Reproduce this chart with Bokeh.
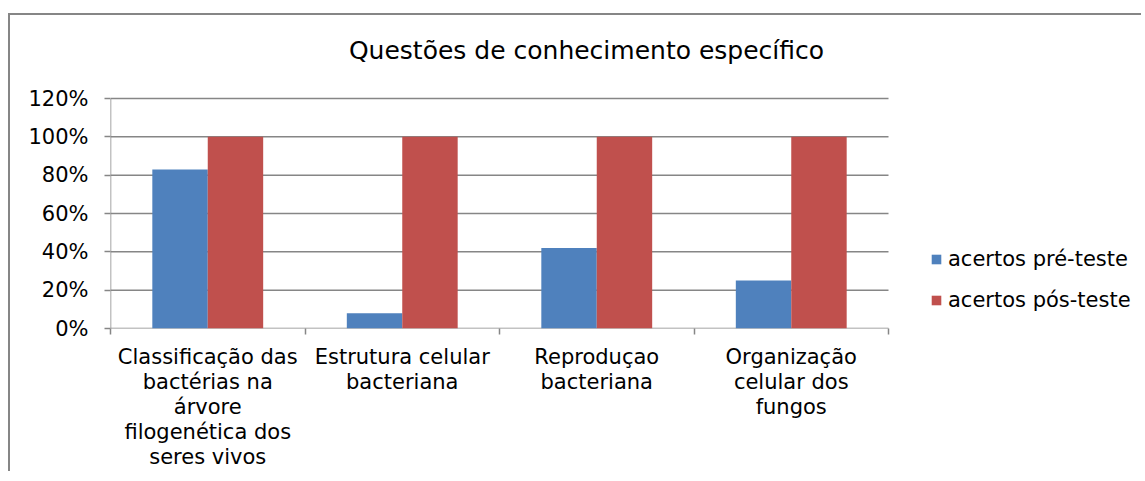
from bokeh.plotting import figure
from bokeh.models import (ColumnDataSource, FixedTicker, NumeralTickFormatter, Range1d,
                          Legend, LegendItem, Label)
from bokeh.transform import dodge
from bokeh.embed import file_html
from bokeh.resources import INLINE

# ---- data ----
categories = [
    "Classificação das\nbactérias na\nárvore\nfilogenética dos\nseres vivos",
    "Estrutura celular\nbacteriana",
    "Reproduçao\nbacteriana",
    "Organização\ncelular dos\nfungos",
]
pre_test = [0.83, 0.08, 0.42, 0.25]
post_test = [1.00, 1.00, 1.00, 1.00]
series_names = ["acertos pré-teste", "acertos pós-teste"]
y_ticks = [0, 0.2, 0.4, 0.6, 0.8, 1.0, 1.2]
title_text = "Questões de conhecimento específico"

FONT = "DejaVu Sans"
BLUE = "#4F81BD"
RED = "#C0504D"
GRID = "#868686"

n = len(categories)
y_max = y_ticks[-1]
xpos = [i + 0.5 for i in range(n)]
src = ColumnDataSource(dict(x=xpos, pre=pre_test, post=post_test))

# layout (pixels)
W, H = 1133, 458
LEFT, BOTTOM = 100, 145
PLOT_W, PLOT_H = 778, 230         # size of the category / value area
frame_w, frame_h = W - LEFT, H - BOTTOM
x_end = n * frame_w / PLOT_W      # frame extends right (legend) and up (title)
y_end = y_max * frame_h / PLOT_H

p = figure(width=W, height=H, output_backend="svg", toolbar_location=None,
           x_range=Range1d(0, x_end), y_range=Range1d(0, y_end),
           min_border_left=LEFT, min_border_top=0, min_border_right=0, min_border_bottom=BOTTOM)
p.styles = {"border-top": f"2px solid {GRID}", "border-left": f"2px solid {GRID}",
            "margin-left": "8px", "margin-top": "13px"}

p.outline_line_color = None
p.background_fill_color = "white"
p.border_fill_color = "white"
p.xgrid.visible = False
p.ygrid.visible = False

# horizontal gridlines across the category area only
p.segment(x0=[0] * len(y_ticks), x1=[n] * len(y_ticks), y0=y_ticks, y1=y_ticks,
          line_color=GRID, line_width=1.5)
# value axis line
p.segment(x0=[0], x1=[0], y0=[0], y1=[y_max], line_color=GRID, line_width=1.5)

bw = 0.285
r1 = p.vbar(x=dodge("x", -bw / 2, range=p.x_range), top="pre", width=bw, source=src,
            fill_color=BLUE, line_color=None)
r2 = p.vbar(x=dodge("x", bw / 2, range=p.x_range), top="post", width=bw, source=src,
            fill_color=RED, line_color=None)

# title
p.add_layout(Label(x=476, y=278, x_units="screen", y_units="screen", text=title_text,
                   text_font=FONT, text_font_size="25px", text_align="center",
                   text_baseline="middle", text_color="black"))

# y axis
p.yaxis.ticker = FixedTicker(ticks=y_ticks)
p.yaxis.formatter = NumeralTickFormatter(format="0%")
p.yaxis.axis_line_color = None
p.yaxis.major_tick_line_color = GRID
p.yaxis.major_tick_line_width = 1.5
p.yaxis.major_tick_out = 6
p.yaxis.major_tick_in = 0
p.yaxis.minor_tick_line_color = None
p.yaxis.major_label_standoff = 16
p.yaxis.major_label_text_font = FONT
p.yaxis.major_label_text_font_size = "21px"
p.yaxis.major_label_text_color = "black"

# x axis: labels at category centres, ticks at category boundaries
p.xaxis.ticker = FixedTicker(ticks=xpos, minor_ticks=list(range(n + 1)))
p.xaxis.major_label_overrides = {x: c for x, c in zip(xpos, categories)}
p.xaxis.axis_line_color = None
p.xaxis.major_tick_line_color = None
p.xaxis.major_tick_out = 0
p.xaxis.major_tick_in = 0
p.xaxis.minor_tick_line_color = GRID
p.xaxis.minor_tick_line_width = 1.5
p.xaxis.minor_tick_out = 6
p.xaxis.minor_tick_in = 0
p.xaxis.major_label_standoff = 10
p.xaxis.major_label_text_font = FONT
p.xaxis.major_label_text_font_size = "21px"
p.xaxis.major_label_text_color = "black"
p.xaxis.major_label_text_line_height = 1.05

# legend inside the (extended) frame, right of the categories
legend = Legend(items=[LegendItem(label=series_names[0], renderers=[r1]),
                       LegendItem(label=series_names[1], renderers=[r2])],
                location=(PLOT_W + 42, 16), orientation="vertical",
                padding=0, margin=0, spacing=17,
                glyph_width=12, glyph_height=12, label_standoff=6, label_height=20,
                label_text_font=FONT, label_text_font_size="21px", label_text_color="black",
                border_line_color=None, background_fill_alpha=0)
p.add_layout(legend)

open("out.html", "w").write(file_html(p, INLINE))
